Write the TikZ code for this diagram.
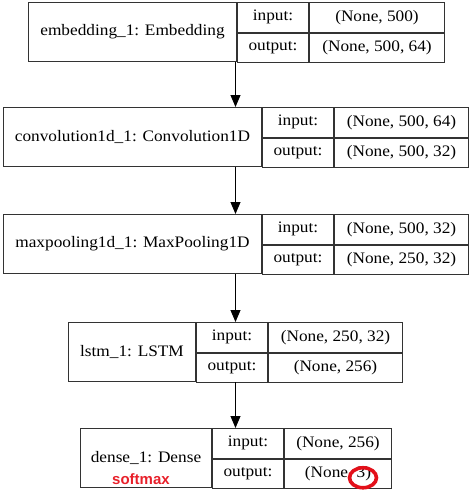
\documentclass[tikz,border=0pt]{standalone}
\usepackage{fontspec}
\setmainfont{Liberation Serif}[FakeStretch=1.08]
\newfontfamily\softfont{Liberation Sans}
\usetikzlibrary{arrows.meta,positioning,shapes.geometric}
\definecolor{cellline}{HTML}{333333}
\definecolor{softred}{HTML}{E8202A}
\definecolor{ringred}{HTML}{E3101A}
\tikzset{
  namecell/.style={draw=cellline,line width=1pt,minimum height=59pt,inner sep=0pt,
    font=\fontsize{16}{18}\selectfont,anchor=north west},
  keycell/.style={namecell,minimum width=71pt,minimum height=29.5pt},
  valcell/.style={keycell},
  layerarrow/.style={-{Triangle[length=12pt,width=10pt]},draw=black,line width=1pt},
  softlabel/.style={font=\softfont\bfseries\fontsize{15}{17}\selectfont,text=softred,inner sep=0pt},
  ringmark/.style={ellipse,draw=ringred,line width=3.6pt,inner sep=0pt}
}
\begin{document}
\begin{tikzpicture}[x=1pt,y=1pt]
  \useasboundingbox (0,0) rectangle (471,-491);
  \coordinate (axis) at (235.5,0);
  % embedding layer
  \node[namecell,minimum width=208pt] (emb) at (28,-2) {embedding\_1: Embedding};
  \node[keycell] (embkin) at (emb.north east) {input:};
  \node[keycell] (embkout) at (embkin.south west) {output:};
  \node[valcell,minimum width=135pt] (embvin) at (embkin.north east) {(None, 500)};
  \node[valcell,minimum width=135pt] (embvout) at (embkin.south east) {(None, 500, 64)};
  % convolution layer
  \node[namecell,minimum width=258pt] (conv) at (3,-107) {convolution1d\_1: Convolution1D};
  \node[keycell] (convkin) at (conv.north east) {input:};
  \node[keycell] (convkout) at (convkin.south west) {output:};
  \node[valcell,minimum width=134pt] (convvin) at (convkin.north east) {(None, 500, 64)};
  \node[valcell,minimum width=134pt] (convvout) at (convkin.south east) {(None, 500, 32)};
  % pooling layer
  \node[namecell,minimum width=258pt] (pool) at (3,-214) {maxpooling1d\_1: MaxPooling1D};
  \node[keycell] (poolkin) at (pool.north east) {input:};
  \node[keycell] (poolkout) at (poolkin.south west) {output:};
  \node[valcell,minimum width=134pt] (poolvin) at (poolkin.north east) {(None, 500, 32)};
  \node[valcell,minimum width=134pt] (poolvout) at (poolkin.south east) {(None, 250, 32)};
  % lstm layer
  \node[namecell,minimum width=127pt] (lstm) at (68,-322) {lstm\_1: LSTM};
  \node[keycell] (lstmkin) at (lstm.north east) {input:};
  \node[keycell] (lstmkout) at (lstmkin.south west) {output:};
  \node[valcell,minimum width=134pt] (lstmvin) at (lstmkin.north east) {(None, 250, 32)};
  \node[valcell,minimum width=134pt] (lstmvout) at (lstmkin.south east) {(None, 256)};
  % dense layer
  \node[namecell,minimum width=131pt] (dense) at (80,-428) {dense\_1: Dense};
  \node[keycell] (densekin) at (dense.north east) {input:};
  \node[keycell] (densekout) at (densekin.south west) {output:};
  \node[valcell,minimum width=107pt] (densevin) at (densekin.north east) {(None, 256)};
  \node[valcell,minimum width=107pt] (densevout) at (densekin.south east) {(None, 3)};
  \node[softlabel] (soft) at ([xshift=-5pt,yshift=-21pt]dense.center) {softmax};
  \node[ringmark,minimum width=27pt,minimum height=20pt] (ring) at ([xshift=25pt,yshift=-4pt]densevout.center) {};
  % arrows
  \draw[layerarrow] (emb.south -| axis) -- (conv.north -| axis);
  \draw[layerarrow] (conv.south -| axis) -- (pool.north -| axis);
  \draw[layerarrow] (pool.south -| axis) -- (lstm.north -| axis);
  \draw[layerarrow] (lstm.south -| axis) -- (dense.north -| axis);
\end{tikzpicture}
\end{document}
